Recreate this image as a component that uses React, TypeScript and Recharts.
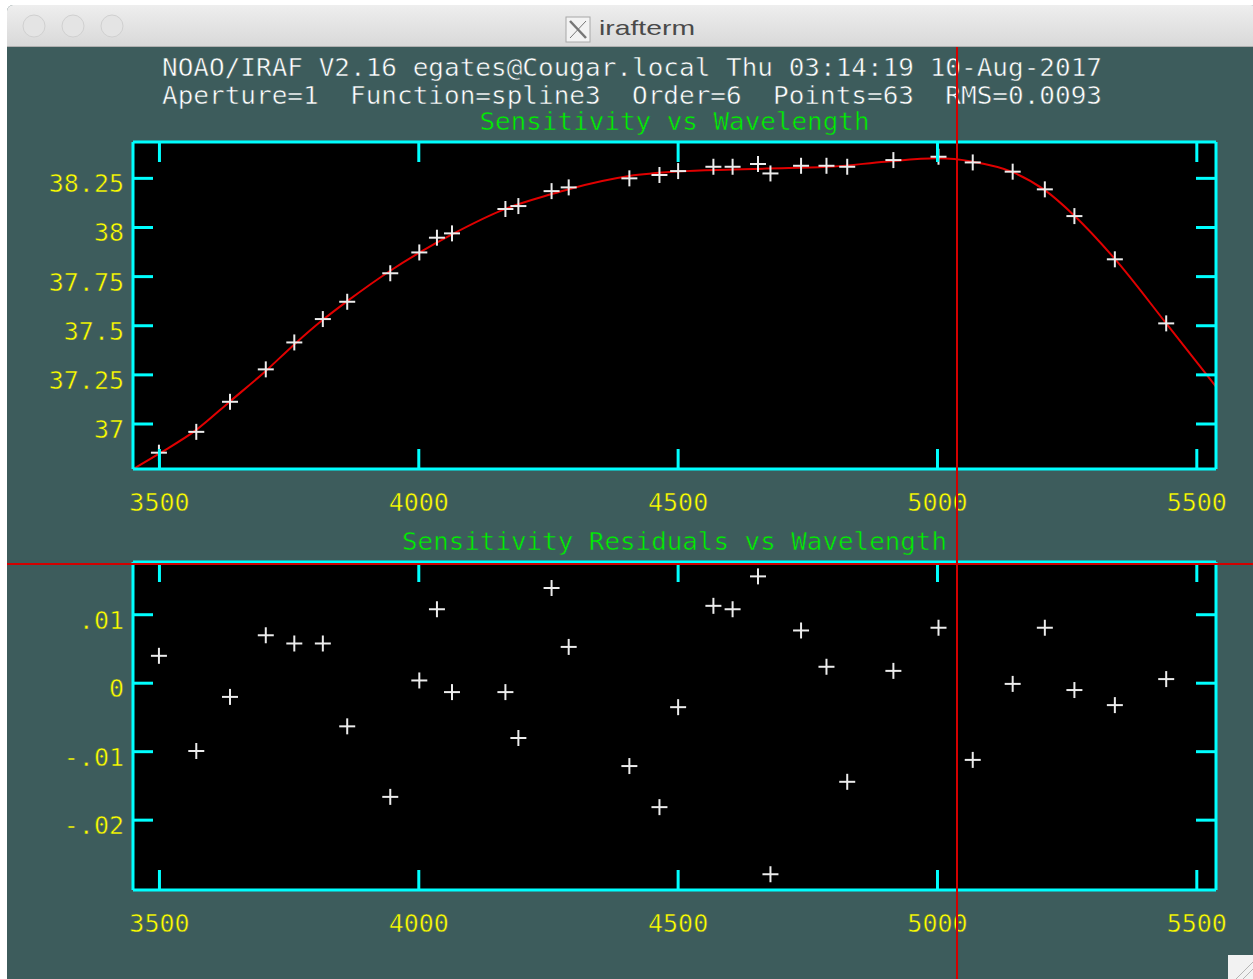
import React from "react";
import { ComposedChart, Scatter, Line, XAxis, YAxis, CartesianGrid } from "recharts";

// ---- data ----
const wavelengths = [3499, 3571, 3636, 3705, 3760, 3815, 3862, 3945, 4001, 4035, 4064, 4167, 4192, 4256, 4289, 4406, 4464, 4500, 4568, 4605, 4654, 4678, 4737, 4786, 4826, 4915, 5002, 5068, 5145, 5207, 5264, 5342, 5441];
const sensitivity = [36.854, 36.96, 37.113, 37.278, 37.415, 37.534, 37.622, 37.767, 37.873, 37.948, 37.97, 38.094, 38.109, 38.185, 38.204, 38.25, 38.267, 38.287, 38.309, 38.309, 38.323, 38.275, 38.314, 38.314, 38.309, 38.343, 38.36, 38.331, 38.284, 38.194, 38.058, 37.838, 37.512];
const residuals = [0.004, -0.0099, -0.002, 0.007, 0.0058, 0.0058, -0.0063, -0.0166, 0.0004, 0.0108, -0.0013, -0.0013, -0.008, 0.0139, 0.0053, -0.0121, -0.0181, -0.0035, 0.0113, 0.0108, 0.0156, -0.0279, 0.0077, 0.0024, -0.0144, 0.0018, 0.0081, -0.0112, -0.0001, 0.0081, -0.001, -0.0032, 0.0006];
const fitWavelengths = [3449, 3500, 3571, 3636, 3705, 3760, 3815, 3862, 3945, 4001, 4064, 4167, 4256, 4289, 4406, 4500, 4605, 4700, 4800, 4900, 5000, 5068, 5145, 5207, 5264, 5342, 5441, 5537];
const fitValues = [36.77, 36.85, 36.97, 37.115, 37.27, 37.405, 37.53, 37.625, 37.78, 37.872, 37.965, 38.095, 38.17, 38.195, 38.262, 38.285, 38.295, 38.302, 38.31, 38.335, 38.352, 38.335, 38.282, 38.19, 38.06, 37.84, 37.512, 37.19];

const xDomain = [3449, 5537];
const xTicks = [3500, 4000, 4500, 5000, 5500];
const xTickLabels = ["3500", "4000", "4500", "5000", "5500"];
const sensDomain = [36.771, 38.435];
const sensTicks = [37, 37.25, 37.5, 37.75, 38, 38.25];
const sensTickLabels = ["37", "37.25", "37.5", "37.75", "38", "38.25"];
const residDomain = [-0.0302, 0.0177];
const residTicks = [-0.02, -0.01, 0, 0.01];
const residTickLabels = ["-.02", "-.01", "0", ".01"];

const headerLine1 = "NOAO/IRAF V2.16 egates@Cougar.local Thu 03:14:19 10-Aug-2017";
const headerLine2 = "Aperture=1  Function=spline3  Order=6  Points=63  RMS=0.0093";
const title1 = "Sensitivity vs Wavelength";
const title2 = "Sensitivity Residuals vs Wavelength";

const sensData = wavelengths.map((w, i) => ({ w, s: sensitivity[i] }));
const residData = wavelengths.map((w, i) => ({ w, r: residuals[i] }));
const fitData = fitWavelengths.map((w, i) => ({ w, f: fitValues[i] }));

// ---- styles ----
const TEAL = "#3d5c5c";
const CYAN = "#00ffff";
const YELLOW = "#ffff00";
const GREEN = "#00f000";
const RED = "#e00000";
const CROSS = "#ececec";
const MONO = "'DejaVu Sans Mono', 'Liberation Mono', monospace";
const TICK_LEN = 20;
// thin the glyphs a little (IRAF stroke font look)
const thin = { stroke: TEAL, strokeWidth: 0.5 };

const Cross = (props: any) => {
  const { cx, cy } = props;
  if (cx == null || cy == null) return <g />;
  return (
    <g>
      <line x1={cx - 8} y1={cy} x2={cx + 8} y2={cy} stroke={CROSS} strokeWidth={2} />
      <line x1={cx} y1={cy - 8} x2={cx} y2={cy + 8} stroke={CROSS} strokeWidth={2} />
    </g>
  );
};
const Nothing = () => <g />;

const tickFactory = (orient: string, labels?: string[]) => (props: any) => {
  const { x, y, index } = props;
  const label = labels ? labels[index] : null;
  if (orient === "bottom") {
    return (
      <g>
        <line x1={x} y1={y} x2={x} y2={y - TICK_LEN} stroke={CYAN} strokeWidth={3} />
        {label && (
          <text x={x} y={y + 42} textAnchor="middle" fill={YELLOW} fontFamily={MONO} fontSize={25} {...thin}>
            {label}
          </text>
        )}
      </g>
    );
  }
  if (orient === "top") {
    return <line x1={x} y1={y} x2={x} y2={y + TICK_LEN} stroke={CYAN} strokeWidth={3} />;
  }
  if (orient === "left") {
    return (
      <g>
        <line x1={x} y1={y} x2={x + TICK_LEN} y2={y} stroke={CYAN} strokeWidth={3} />
        {label && (
          <text x={x - 9} y={y + 14} textAnchor="end" fill={YELLOW} fontFamily={MONO} fontSize={25} {...thin}>
            {label}
          </text>
        )}
      </g>
    );
  }
  return <line x1={x} y1={y} x2={x - TICK_LEN} y2={y} stroke={CYAN} strokeWidth={3} />;
};

const axisLine = { stroke: CYAN, strokeWidth: 3 };

function Panel(props: {
  top: number;
  bottom: number;
  data: any[];
  dataKey: string;
  yDomain: number[];
  yTicks: number[];
  yLabels: string[];
  withFit: boolean;
}) {
  const { top, bottom, data, dataKey, yDomain, yTicks, yLabels, withFit } = props;
  return (
    <div style={{ position: "absolute", left: 0, top: 0 }}>
      <ComposedChart width={1253} height={979} margin={{ top: top - 1, right: 36, bottom: bottom - 61, left: 0 }}>
        <CartesianGrid xAxisId="b" yAxisId="l" horizontal={false} vertical={false} fill="#000000" />
        <XAxis
          xAxisId="b"
          dataKey="w"
          type="number"
          orientation="bottom"
          domain={xDomain}
          allowDataOverflow
          ticks={xTicks}
          interval={0}
          height={61}
          tickSize={0}
          tickMargin={0}
          tickLine={false}
          axisLine={axisLine}
          tick={tickFactory("bottom", xTickLabels)}
        />
        <XAxis
          xAxisId="t"
          dataKey="w"
          type="number"
          orientation="top"
          domain={xDomain}
          allowDataOverflow
          ticks={xTicks}
          interval={0}
          height={1}
          tickSize={0}
          tickMargin={0}
          tickLine={false}
          axisLine={axisLine}
          tick={tickFactory("top")}
        />
        <YAxis
          yAxisId="l"
          type="number"
          orientation="left"
          domain={yDomain}
          allowDataOverflow
          ticks={yTicks}
          interval={0}
          width={133}
          tickSize={0}
          tickMargin={0}
          tickLine={false}
          axisLine={axisLine}
          tick={tickFactory("left", yLabels)}
        />
        <YAxis
          yAxisId="r"
          type="number"
          orientation="right"
          domain={yDomain}
          allowDataOverflow
          ticks={yTicks}
          interval={0}
          width={1}
          tickSize={0}
          tickMargin={0}
          tickLine={false}
          axisLine={axisLine}
          tick={tickFactory("right")}
        />
        {/* invisible copy so the top and right frame axes get a series */}
        <Scatter xAxisId="t" yAxisId="r" data={data} dataKey={dataKey} shape={Nothing} isAnimationActive={false} />
        <Scatter xAxisId="b" yAxisId="l" data={data} dataKey={dataKey} shape={Cross} isAnimationActive={false} />
        {withFit && (
          <Line
            xAxisId="b"
            yAxisId="l"
            data={fitData}
            dataKey="f"
            type="monotone"
            stroke={RED}
            strokeWidth={2}
            dot={false}
            activeDot={false}
            isAnimationActive={false}
          />
        )}
      </ComposedChart>
    </div>
  );
}

export default function App() {
  return (
    <div style={{ position: "absolute", left: 0, top: 0, width: 1253, height: 979, background: "#ffffff", overflow: "hidden" }}>
      {/* window */}
      <div
        style={{
          position: "absolute",
          left: 7,
          top: 5,
          width: 1250,
          height: 980,
          background: TEAL,
          borderTopLeftRadius: 6,
          borderTopRightRadius: 6,
          overflow: "hidden",
        }}
      >
        <div
          style={{
            position: "absolute",
            left: 0,
            top: 0,
            width: "100%",
            height: 41,
            background: "linear-gradient(#eeeeee, #d9d9d9)",
            borderBottom: "1px solid #b0b0b0",
          }}
        />
      </div>

      <Panel top={142} bottom={510} data={sensData} dataKey="s" yDomain={sensDomain} yTicks={sensTicks} yLabels={sensTickLabels} withFit={true} />
      <Panel top={562} bottom={89} data={residData} dataKey="r" yDomain={residDomain} yTicks={residTicks} yLabels={residTickLabels} withFit={false} />

      <svg width={1253} height={979} style={{ position: "absolute", left: 0, top: 0, pointerEvents: "none" }}>
        {/* traffic lights */}
        {[34, 73, 112].map((cx) => (
          <circle key={cx} cx={cx} cy={26} r={11} fill="#e4e4e4" stroke="#d0d0d0" strokeWidth={1} />
        ))}
        {/* X icon + title */}
        <rect x={566} y={17} width={24} height={25} fill="#f3f3f3" stroke="#a8a8a8" strokeWidth={1} />
        <line x1={570} y1={21} x2={586} y2={38} stroke="#777" strokeWidth={2.5} />
        <line x1={586} y1={21} x2={570} y2={38} stroke="#777" strokeWidth={1} />
        <text x={599} y={35} fontFamily="'Liberation Sans', Arial, sans-serif" fontSize={21} fill="#4a4a4a" textLength={96} lengthAdjust="spacingAndGlyphs">
          irafterm
        </text>

        {/* IRAF header */}
        <text x={162} y={75.5} fill="#ffffff" fontFamily={MONO} fontSize={24} textLength={940} lengthAdjust="spacingAndGlyphs" {...thin}>
          {headerLine1}
        </text>
        <text x={162} y={103.5} fill="#ffffff" fontFamily={MONO} fontSize={24} textLength={940} lengthAdjust="spacingAndGlyphs" style={{ whiteSpace: "pre" }} {...thin}>
          {headerLine2}
        </text>
        <text x={674.5} y={129.5} textAnchor="middle" fill={GREEN} fontFamily={MONO} fontSize={24} textLength={390} lengthAdjust="spacingAndGlyphs" {...thin}>
          {title1}
        </text>
        <text x={674.5} y={549.5} textAnchor="middle" fill={GREEN} fontFamily={MONO} fontSize={24} textLength={545} lengthAdjust="spacingAndGlyphs" {...thin}>
          {title2}
        </text>

        {/* cursor crosshair */}
        <line x1={957} y1={47} x2={957} y2={979} stroke="#d40000" strokeWidth={2} />
        <line x1={7} y1={564} x2={1253} y2={564} stroke="#d40000" strokeWidth={2} />

        {/* resize grip */}
        <rect x={1228} y={955} width={25} height={24} fill="#f2f2f2" />
        <line x1={1236} y1={979} x2={1253} y2={962} stroke="#b5b5b5" strokeWidth={1} />
        <line x1={1243} y1={979} x2={1253} y2={969} stroke="#b5b5b5" strokeWidth={1} />
      </svg>
    </div>
  );
}
